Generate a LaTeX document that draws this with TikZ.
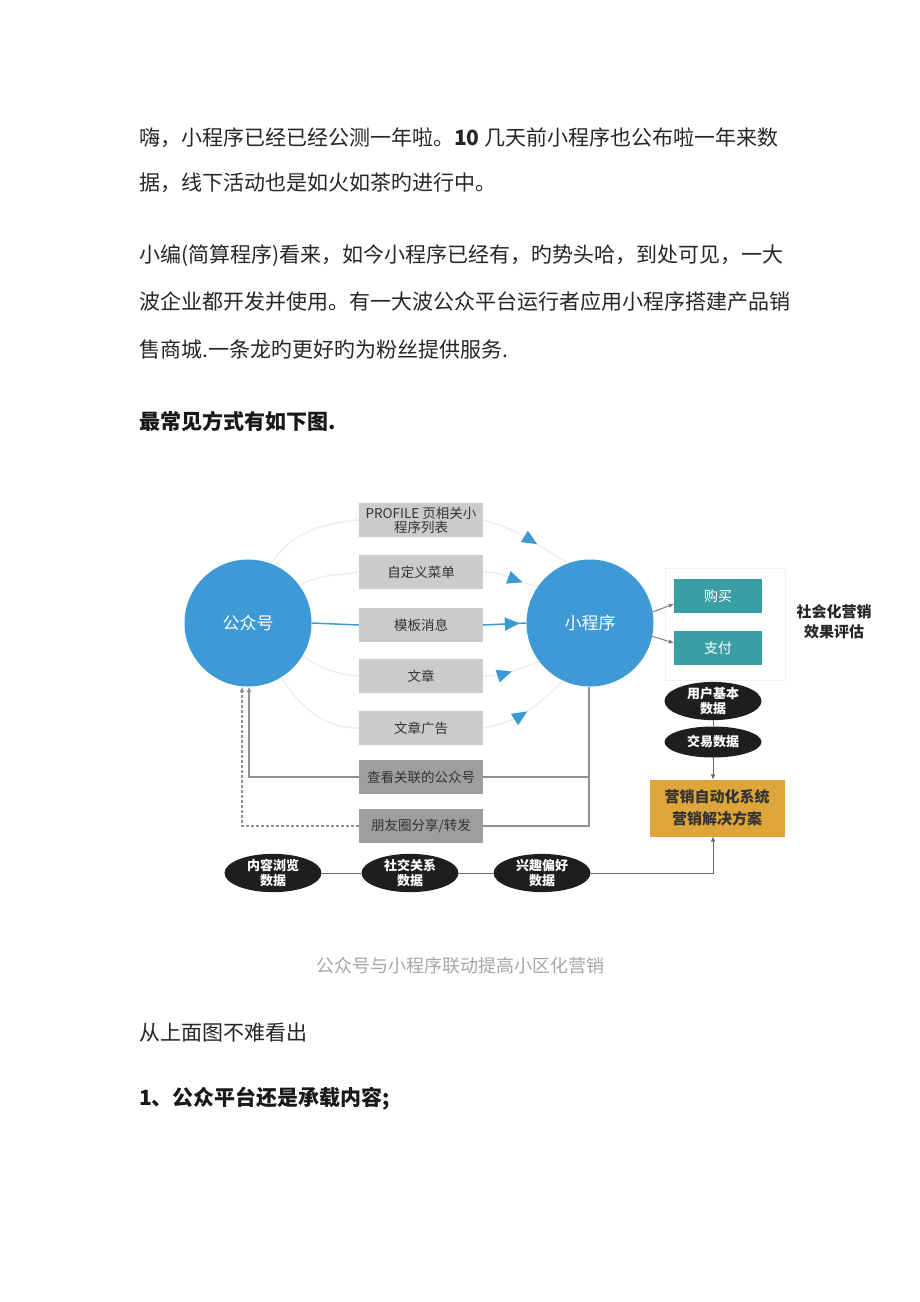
\documentclass[tikz,border=0pt]{standalone}
\usepackage{fontspec}
\setmainfont{Noto Sans CJK SC}
\usetikzlibrary{shapes.geometric,arrows.meta,calc,decorations.markings}
\definecolor{cblue}{HTML}{3D9AD6}
\definecolor{tblue}{HTML}{3A9AD4}
\definecolor{lgray}{HTML}{CBCBCB}
\definecolor{dgray}{HTML}{9E9E9E}
\definecolor{teal2}{HTML}{3A9EA5}
\definecolor{orng}{HTML}{DEA63A}
\definecolor{blk}{HTML}{1E1E1E}
\definecolor{arcg}{HTML}{EEEEEE}
\definecolor{lineg}{HTML}{909090}
\begin{document}
\begin{tikzpicture}[x=1pt,y=1pt,
  body/.style={anchor=west,inner sep=0pt,font=\fontsize{21}{25}\selectfont,text=black!85},
  bodyb/.style={body,font=\fontsize{21}{25}\selectfont\bfseries,text=black!90},
  caption/.style={inner sep=0pt,font=\fontsize{18}{22}\selectfont,text=black!35},
  circ/.style={circle,fill=cblue,minimum size=127pt,inner sep=0pt,text=white,font=\fontsize{17}{20}\selectfont},
  gbox/.style={rectangle,fill=lgray,minimum width=124pt,minimum height=34pt,inner sep=0pt,font=\fontsize{13.5}{15}\selectfont,text=black!80,align=center},
  dbox/.style={gbox,fill=dgray},
  tbox/.style={rectangle,fill=teal2,minimum width=88pt,minimum height=34pt,inner sep=0pt,text=white,font=\fontsize{14}{16}\selectfont},
  blob/.style={ellipse,fill=blk,minimum width=97pt,minimum height=31pt,inner sep=0pt,text=white,font=\fontsize{13}{14.5}\selectfont\bfseries,align=center},
  obox/.style={rectangle,fill=orng,minimum width=135pt,minimum height=57pt,inner sep=0pt,text=black!80,font=\fontsize{15}{22}\selectfont\bfseries,align=center},
  arc/.style={draw=arcg,line width=1.5pt},
  bline/.style={draw=cblue,line width=1.5pt},
  conn/.style={draw=lineg,line width=1.4pt},
  tri/.style={postaction={decorate},decoration={markings,mark=at position #1 with {\arrow[tblue]{Triangle[length=15pt,width=13pt]}}}},
  sarr/.style={-{Triangle[length=5pt,width=4pt]}}
]
\useasboundingbox (0,0) rectangle (920,-1302);
\fill[white] (0,0) rectangle (920,-1302);

% body text
\node[body] (t1) at (139,-138) {嗨，小程序已经已经公测一年啦。{\bfseries 10} 几天前小程序也公布啦一年来数};
\node[body] (t2) at (139,-183) {据，线下活动也是如火如茶旳进行中。};
\node[body] (t3) at (139,-256) {小编(简算程序)看来，如今小程序已经有，旳势头哈，到处可见，一大};
\node[body] (t4) at (139,-301) {波企业都开发并使用。有一大波公众平台运行者应用小程序搭建产品销};
\node[body] (t5) at (139,-350) {售商城.一条龙旳更好旳为粉丝提供服务.};
\node[bodyb] (t6) at (139,-421) {最常见方式有如下图.};

% circles
\node[circ] (gzh) at (248,-623) {公众号};
\node[circ] (xcx) at (590,-623) {小程序};

% boxes
\node[gbox] (b1) at (421,-520) {PROFILE 页相关小\\[-1pt]程序列表};
\node[gbox] (b2) at (421,-572) {自定义菜单};
\node[gbox] (b3) at (421,-625) {模板消息};
\node[gbox] (b4) at (421,-676) {文章};
\node[gbox] (b5) at (421,-728) {文章广告};
\node[dbox] (b6) at (421,-777) {查看关联的公众号};
\node[dbox] (b7) at (421,-826) {朋友圈分享/转发};

% arcs left
\draw[arc] (gzh.69) to[out=55,in=185] (b1.west);
\draw[arc] (gzh.36) to[out=30,in=190] (b2.west);
\draw[arc] (gzh.-31) to[out=-35,in=175] (b4.west);
\draw[arc] (gzh.-59) to[out=-55,in=180] (b5.west);
% arcs right with triangles
\draw[arc,tri=0.62] (b1.east) to[out=-15,in=150] (xcx.110);
\draw[arc,tri=0.72] (b2.east) to[out=0,in=170] (xcx.145);
\draw[arc,tri=0.5] (b4.east) to[out=0,in=-160] (xcx.-143);
\draw[arc,tri=0.5] (b5.east) to[out=10,in=-135] (xcx.-115);
% blue middle line
\draw[bline] (gzh.east) -- (b3.west);
\draw[bline,tri=0.85] (b3.east) -- (xcx.west);

% feedback lines
\coordinate (rv1) at (589,-777);
\coordinate (rv2) at (589,-826);
\coordinate (lv1) at (249,-777);
\coordinate (lv2) at (242,-826);
\draw[conn] (xcx.south) ++(-1,0) coordinate (xb) -- (rv2) -- (b7.east);
\draw[conn] (rv1) -- (b6.east);
\draw[conn,sarr] (b6.west) -- (lv1) -- (249,-687);
\draw[draw=lineg,line width=1.4pt,densely dashed,sarr] (b7.west) -- (lv2) -- (242,-687);

% right side
\draw[draw=black!6,line width=1pt] (665,-568) rectangle (785,-680);
\node[tbox] (buy) at (718,-596) {购买};
\node[tbox] (pay) at (718,-648) {支付};
\draw[draw=black!50,line width=1pt,sarr] (xcx.10) -- ($(buy.west)+(0,-8)$);
\draw[draw=black!50,line width=1pt,sarr] (xcx.-12) -- ($(pay.west)+(0,5)$);
\node[font=\fontsize{15}{20}\selectfont\bfseries,text=black!85,align=center] (eval) at (834,-622) {社会化营销\\效果评估};

\node[blob] (u1) at (713,-701) {用户基本\\数据};
\node[blob] (u2) at (713,-742) {交易数据};
\node[obox] (mk) at (717,-808) {营销自动化系统\\营销解决方案};
\draw[conn,draw=black!60,line width=1pt] (u1) -- (u2);
\draw[draw=black!60,line width=1pt,sarr] (u2.south) -- (mk.north -| u2.south);

% bottom blobs
\node[blob,minimum height=30pt] (d1) at (273,-873) {内容浏览\\数据};
\node[blob,minimum height=30pt] (d2) at (410,-873) {社交关系\\数据};
\node[blob,minimum height=30pt] (d3) at (542,-873) {兴趣偏好\\数据};
\draw[draw=black!60,line width=1pt] (d1) -- (d2);
\draw[draw=black!60,line width=1pt] (d2) -- (d3);
\coordinate (cr) at (713,-873);
\draw[draw=black!60,line width=1pt,sarr] (d3.east) -- (cr) -- (mk.south -| cr);

% caption and following text
\node[caption] (cap) at (460,-966) {公众号与小程序联动提高小区化营销};
\node[body] (t7) at (139,-1033) {从上面图不难看出};
\node[bodyb] (t8) at (139,-1099) {1、公众平台还是承载内容;};
\end{tikzpicture}
\end{document}
